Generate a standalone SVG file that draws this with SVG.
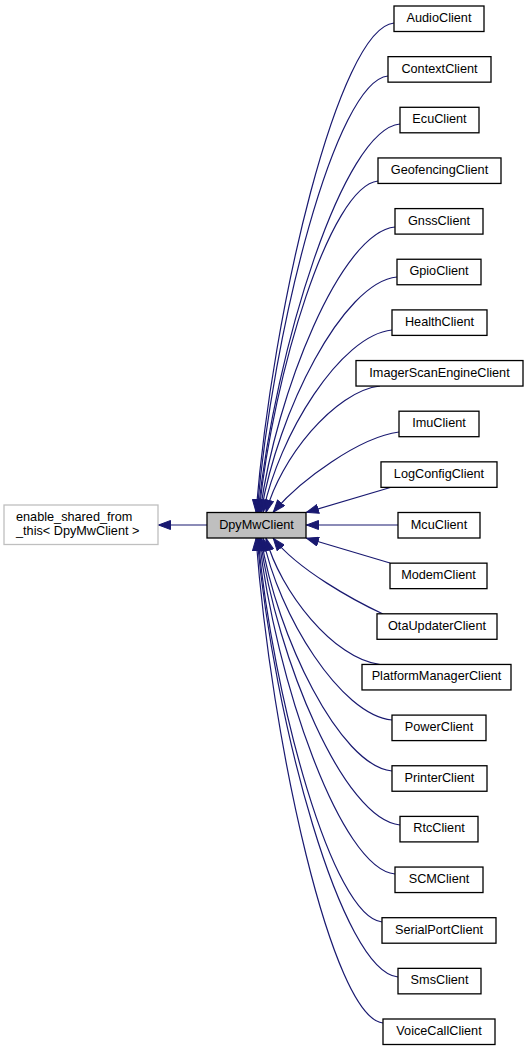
<svg xmlns="http://www.w3.org/2000/svg" width="528" height="1051" viewBox="0 0 528 1051">
<style>
.n rect{fill:#ffffff;stroke:#000000;stroke-width:1.3}
.n text{font-family:"Liberation Sans",Arial,Helvetica,sans-serif;font-size:12.7px;fill:#000000;text-anchor:middle}
#base rect{stroke:#bfbfbf}
#base text{text-anchor:start}
#main rect{fill:#bfbfbf}
.e path{fill:none;stroke:#191970;stroke-width:1.2;marker-end:url(#arr)}
</style>
<defs>
<marker id="arr" markerUnits="userSpaceOnUse" viewBox="0 0 13 10" markerWidth="13" markerHeight="10" refX="13" refY="5" orient="auto">
<path d="M0.5,0.5 L12.5,5 L0.5,9.5 Z" fill="#191970" stroke="#191970" stroke-width="1"/>
</marker>
</defs>
<rect width="528" height="1051" fill="#ffffff"/>
<g class="e" id="edges">
<path d="M207,525 L158,525"/>
<path d="M394,23 C338.8,28 272.6,306.9 256,512.5"/>
<path d="M388,76 C335.6,81 272.7,329.2 257,512.5"/>
<path d="M400,124 C343.2,129 275,349.3 258,512.5"/>
<path d="M378,181 C330.4,186 273.3,373.3 259,512.5"/>
<path d="M395,227 C341,232 276.2,392.6 260,512.5"/>
<path d="M397,277 C342.6,282 277.3,413.6 261,512.5"/>
<path d="M392,330 C340.4,335 278.5,435.9 263,512.5"/>
<path d="M380,386 C334.4,391 279.7,459.4 266,512.5"/>
<path d="M399,432 C360,437 300,480 273,512.5"/>
<path d="M392,487 L306,512.5"/>
<path d="M398,525 L306,525"/>
<path d="M390,563 L306,538"/>
<path d="M383,614 C355,601 298,570 273,538"/>
<path d="M380,664.5 C334.4,659.5 279.7,591.1 266,538"/>
<path d="M392,720 C340.4,715 278.5,614.4 263,538"/>
<path d="M392,771 C339.6,766 276.7,635.9 261,538"/>
<path d="M400,825 C344,820 276.8,658.5 260,538"/>
<path d="M395,874 C340.6,869 275.3,679.1 259,538"/>
<path d="M382,922 C332.4,917 272.9,699.3 258,538"/>
<path d="M398,977 C341.6,972 273.9,722.4 257,538"/>
<path d="M383,1023 C332.2,1018 271.2,741.7 256,538"/>
</g>
<g class="n" id="base"><rect x="4" y="505" width="154" height="39.5"/><text x="16" y="520.5">enable_shared_from</text><text x="16" y="535.3">_this&lt; DpyMwClient &gt;</text></g>
<g class="n" id="main"><rect x="207" y="512.5" width="99" height="25.5"/><text x="256.5" y="528.5">DpyMwClient</text></g>
<g class="n" id="n0"><rect x="394" y="6" width="90" height="25.5"/><text x="439" y="22">AudioClient</text></g>
<g class="n" id="n1"><rect x="388" y="56.65" width="103" height="25.5"/><text x="439.5" y="72.65">ContextClient</text></g>
<g class="n" id="n2"><rect x="400" y="107.3" width="79" height="25.5"/><text x="439.5" y="123.3">EcuClient</text></g>
<g class="n" id="n3"><rect x="378" y="157.95" width="123" height="25.5"/><text x="439.5" y="173.95">GeofencingClient</text></g>
<g class="n" id="n4"><rect x="395" y="208.6" width="88" height="25.5"/><text x="439" y="224.6">GnssClient</text></g>
<g class="n" id="n5"><rect x="397" y="259.25" width="84" height="25.5"/><text x="439" y="275.25">GpioClient</text></g>
<g class="n" id="n6"><rect x="392" y="309.9" width="95" height="25.5"/><text x="439.5" y="325.9">HealthClient</text></g>
<g class="n" id="n7"><rect x="356" y="360.55" width="167" height="25.5"/><text x="439.5" y="376.55">ImagerScanEngineClient</text></g>
<g class="n" id="n8"><rect x="399" y="411.2" width="80" height="25.5"/><text x="439" y="427.2">ImuClient</text></g>
<g class="n" id="n9"><rect x="381" y="461.85" width="116" height="25.5"/><text x="439" y="477.85">LogConfigClient</text></g>
<g class="n" id="n10"><rect x="398" y="512.5" width="82" height="25.5"/><text x="439" y="528.5">McuClient</text></g>
<g class="n" id="n11"><rect x="390" y="563.15" width="97" height="25.5"/><text x="438.5" y="579.15">ModemClient</text></g>
<g class="n" id="n12"><rect x="377" y="613.8" width="120" height="25.5"/><text x="437" y="629.8">OtaUpdaterClient</text></g>
<g class="n" id="n13"><rect x="362" y="664.45" width="149" height="25.5"/><text x="436.5" y="680.45">PlatformManagerClient</text></g>
<g class="n" id="n14"><rect x="392" y="715.1" width="94" height="25.5"/><text x="439" y="731.1">PowerClient</text></g>
<g class="n" id="n15"><rect x="392" y="765.75" width="95" height="25.5"/><text x="439.5" y="781.75">PrinterClient</text></g>
<g class="n" id="n16"><rect x="400" y="816.4" width="78" height="25.5"/><text x="439" y="832.4">RtcClient</text></g>
<g class="n" id="n17"><rect x="395" y="867.05" width="88" height="25.5"/><text x="439" y="883.05">SCMClient</text></g>
<g class="n" id="n18"><rect x="382" y="917.7" width="114" height="25.5"/><text x="439" y="933.7">SerialPortClient</text></g>
<g class="n" id="n19"><rect x="398" y="968.35" width="83" height="25.5"/><text x="439.5" y="984.35">SmsClient</text></g>
<g class="n" id="n20"><rect x="383" y="1019" width="112" height="25.5"/><text x="439" y="1035">VoiceCallClient</text></g>
</svg>
